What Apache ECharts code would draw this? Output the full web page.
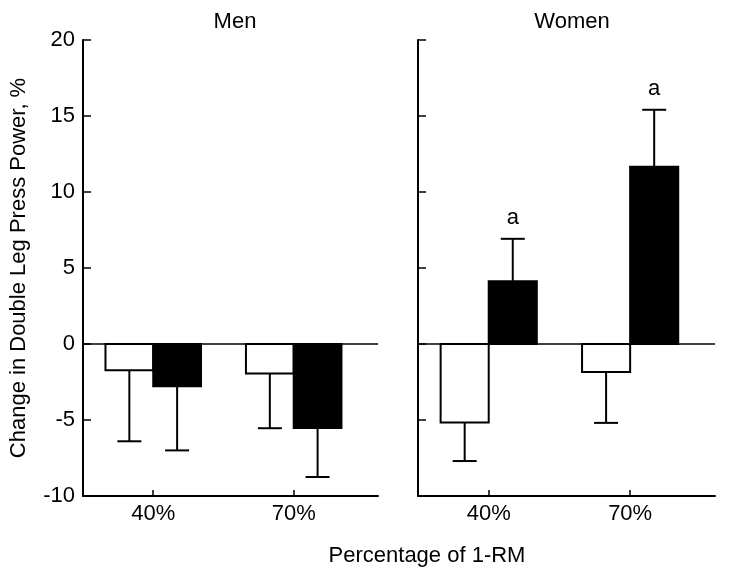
<!DOCTYPE html>
<html>
<head>
<meta charset="utf-8">
<script src="https://cdn.jsdelivr.net/npm/echarts@6/dist/echarts.min.js"></script>
<style>
html,body{margin:0;padding:0;background:#fff;}
#chart{width:729px;height:577px;}
</style>
</head>
<body>
<div id="chart"></div>
<script>
// ---- data ----
const categories = ['40%', '70%'];
const yTicks = [-10, -5, 0, 5, 10, 15, 20];
const menWhite = [-1.72, -1.94];
const menWhiteErr = [4.68, 3.60];
const menBlack = [-2.78, -5.52];
const menBlackErr = [4.22, 3.23];
const womenWhite = [-5.17, -1.84];
const womenWhiteErr = [2.53, 3.35];
const womenBlack = [4.13, 11.66];
const womenBlackErr = [2.79, 3.75];
const womenBlackMark = ['a', 'a'];

const FONT = "'Liberation Sans', Arial, sans-serif";
const BAR_W = 0.34;

function barRender(side, fill) {
  return function (params, api) {
    const x = api.value(0), v = api.value(1);
    const w = api.size([BAR_W, 0])[0];
    const p0 = api.coord([x, 0]);
    const p1 = api.coord([x, v]);
    const left = side < 0 ? p0[0] - w : p0[0];
    return {
      type: 'rect',
      shape: { x: left, y: Math.min(p0[1], p1[1]), width: w, height: Math.abs(p1[1] - p0[1]) },
      style: { fill: fill, stroke: '#000', lineWidth: 2 }
    };
  };
}

function errRender(side, marks) {
  return function (params, api) {
    const x = api.value(0), v = api.value(1), e = api.value(2);
    const w = api.size([BAR_W, 0])[0];
    const end = v >= 0 ? v + e : v - e;
    const p0 = api.coord([x, v]);
    const p1 = api.coord([x, end]);
    const cx = p0[0] + side * w / 2;
    const children = [
      { type: 'line', shape: { x1: cx, y1: p0[1], x2: cx, y2: p1[1] }, style: { stroke: '#000', lineWidth: 2 } },
      { type: 'line', shape: { x1: cx - 12, y1: p1[1], x2: cx + 12, y2: p1[1] }, style: { stroke: '#000', lineWidth: 2 } }
    ];
    const mark = marks ? marks[params.dataIndex] : '';
    if (mark) {
      children.push({
        type: 'text',
        style: { text: mark, x: cx, y: p1[1] - 21, align: 'center', verticalAlign: 'middle',
                 font: '22px ' + FONT, fill: '#000' }
      });
    }
    return { type: 'group', children: children };
  };
}

function mk(vals) { return vals.map((v, i) => [i + 1, v]); }
function mkErr(vals, errs) { return vals.map((v, i) => [i + 1, v, errs[i]]); }

function xAxis(gi) {
  return {
    gridIndex: gi, type: 'value', min: 0.5, max: 2.6,
    axisLine: { show: true, onZero: false, lineStyle: { color: '#000', width: 2 } },
    axisTick: { show: true, inside: true, length: 6, customValues: [1, 2], lineStyle: { color: '#000', width: 1.5 } },
    axisLabel: { show: true, customValues: [1, 2], margin: 7, color: '#000', fontSize: 22, fontFamily: FONT,
                 formatter: v => categories[Math.round(v) - 1] || '' },
    splitLine: { show: false }
  };
}
function yAxis(gi, labels) {
  const ax = {
    gridIndex: gi, type: 'value', min: -10, max: 20, interval: 5,
    axisLine: { show: true, lineStyle: { color: '#000', width: 2 } },
    axisTick: { show: true, inside: true, length: 8, lineStyle: { color: '#000', width: 1.5 } },
    axisLabel: { show: labels, margin: 8, color: '#000', fontSize: 22, fontFamily: FONT,
                 formatter: v => (yTicks.indexOf(v) >= 0 ? String(v) : '') },
    splitLine: { show: false }
  };
  if (labels) {
    ax.name = 'Change in Double Leg Press Power, %';
    ax.nameLocation = 'middle';
    ax.nameGap = 53;
    ax.nameTextStyle = { color: '#000', fontSize: 22, fontFamily: FONT };
  }
  return ax;
}

const zeroLine = { silent: true, symbol: 'none', label: { show: false },
  lineStyle: { color: '#000', width: 1.5, type: 'solid' }, data: [{ yAxis: 0 }] };

const option = {
  animation: false,
  backgroundColor: '#fff',
  title: [
    { text: 'Men', left: 230, top: 6, textAlign: 'center', textStyle: { fontSize: 22, fontWeight: 'normal', color: '#000', fontFamily: FONT } },
    { text: 'Women', left: 567, top: 6, textAlign: 'center', textStyle: { fontSize: 22, fontWeight: 'normal', color: '#000', fontFamily: FONT } },
    { text: 'Percentage of 1-RM', left: 422, top: 540, textAlign: 'center', textStyle: { fontSize: 22, fontWeight: 'normal', color: '#000', fontFamily: FONT } }
  ],
  grid: [
    { left: 83, top: 40, width: 295, height: 456 },
    { left: 418, top: 40, width: 297, height: 456 }
  ],
  xAxis: [xAxis(0), xAxis(1)],
  yAxis: [yAxis(0, true), yAxis(1, false)],
  series: [
    { type: 'custom', xAxisIndex: 0, yAxisIndex: 0, renderItem: barRender(-1, '#fff'), data: mk(menWhite), markLine: zeroLine, z: 3 },
    { type: 'custom', xAxisIndex: 0, yAxisIndex: 0, renderItem: barRender(1, '#000'), data: mk(menBlack), z: 3 },
    { type: 'custom', xAxisIndex: 0, yAxisIndex: 0, renderItem: errRender(-1), data: mkErr(menWhite, menWhiteErr), z: 4 },
    { type: 'custom', xAxisIndex: 0, yAxisIndex: 0, renderItem: errRender(1), data: mkErr(menBlack, menBlackErr), z: 4 },
    { type: 'custom', xAxisIndex: 1, yAxisIndex: 1, renderItem: barRender(-1, '#fff'), data: mk(womenWhite), markLine: zeroLine, z: 3 },
    { type: 'custom', xAxisIndex: 1, yAxisIndex: 1, renderItem: barRender(1, '#000'), data: mk(womenBlack), z: 3 },
    { type: 'custom', xAxisIndex: 1, yAxisIndex: 1, renderItem: errRender(-1), data: mkErr(womenWhite, womenWhiteErr), z: 4 },
    { type: 'custom', xAxisIndex: 1, yAxisIndex: 1, renderItem: errRender(1, womenBlackMark), data: mkErr(womenBlack, womenBlackErr), z: 4 }
  ]
};

const chart = echarts.init(document.getElementById('chart'), null, { renderer: 'canvas' });
chart.setOption(option);
</script>
</body>
</html>
